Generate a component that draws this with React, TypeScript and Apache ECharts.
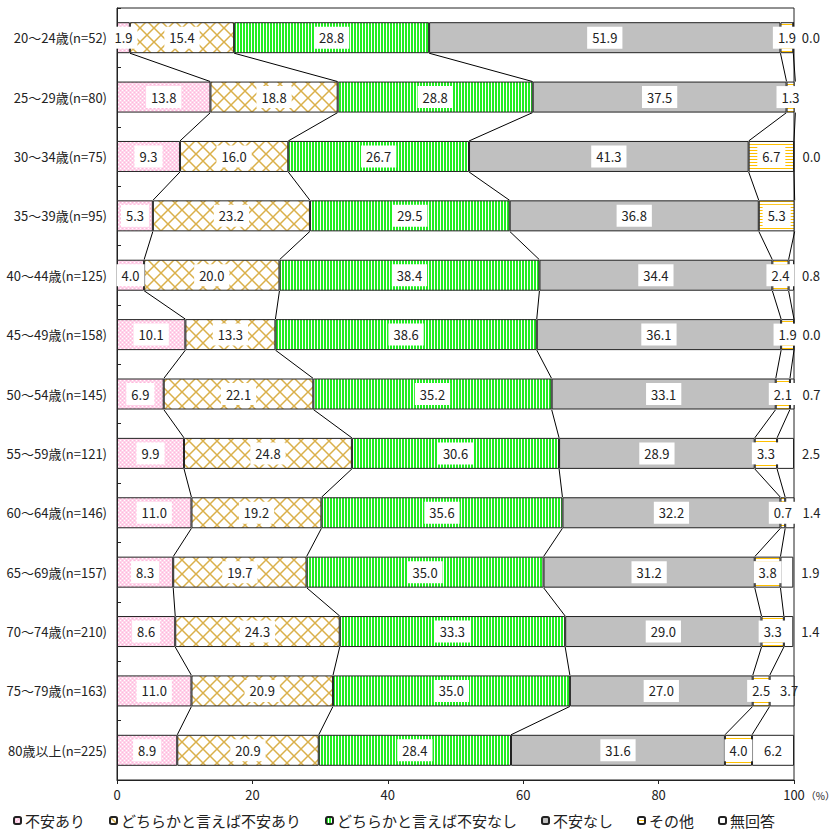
import React, { useEffect, useRef } from "react";
import * as echarts from "echarts";

const categories = [
  "20～24歳(n=52)",
  "25～29歳(n=80)",
  "30～34歳(n=75)",
  "35～39歳(n=95)",
  "40～44歳(n=125)",
  "45～49歳(n=158)",
  "50～54歳(n=145)",
  "55～59歳(n=121)",
  "60～64歳(n=146)",
  "65～69歳(n=157)",
  "70～74歳(n=210)",
  "75～79歳(n=163)",
  "80歳以上(n=225)",
];

const seriesNames = [
  "不安あり",
  "どちらかと言えば不安あり",
  "どちらかと言えば不安なし",
  "不安なし",
  "その他",
  "無回答",
];

const anxious = [1.9, 13.8, 9.3, 5.3, 4.0, 10.1, 6.9, 9.9, 11.0, 8.3, 8.6, 11.0, 8.9];
const ratherAnxious = [15.4, 18.8, 16.0, 23.2, 20.0, 13.3, 22.1, 24.8, 19.2, 19.7, 24.3, 20.9, 20.9];
const ratherNotAnxious = [28.8, 28.8, 26.7, 29.5, 38.4, 38.6, 35.2, 30.6, 35.6, 35.0, 33.3, 35.0, 28.4];
const notAnxious = [51.9, 37.5, 41.3, 36.8, 34.4, 36.1, 33.1, 28.9, 32.2, 31.2, 29.0, 27.0, 31.6];
const other = [1.9, 1.3, 6.7, 5.3, 2.4, 1.9, 2.1, 3.3, 0.7, 3.8, 3.3, 2.5, 4.0];
const noAnswer = [0.0, 0.0, 0.0, 0.0, 0.8, 0.0, 0.7, 2.5, 1.4, 1.9, 1.4, 3.7, 6.2];

const xTicks = [0, 20, 40, 60, 80, 100];

const FONT = "'Noto Sans CJK JP', 'Noto Sans', sans-serif";
const BAR = 31;

function makeCanvas(w: number, h: number, draw: (ctx: CanvasRenderingContext2D) => void) {
  const c = document.createElement("canvas");
  c.width = w;
  c.height = h;
  const ctx = c.getContext("2d")!;
  draw(ctx);
  return c;
}

function patterns() {
  const pink = makeCanvas(4, 4, (ctx) => {
    ctx.fillStyle = "#ffd4ea";
    ctx.fillRect(0, 0, 4, 4);
    ctx.fillStyle = "#ffffff";
    ctx.fillRect(0, 0, 1, 1);
    ctx.fillRect(2, 2, 1, 1);
    ctx.fillStyle = "#ffb8dc";
    ctx.fillRect(2, 0, 1, 1);
    ctx.fillRect(0, 2, 1, 1);
  });
  const lattice = makeCanvas(14, 14, (ctx) => {
    ctx.fillStyle = "#ffffff";
    ctx.fillRect(0, 0, 14, 14);
    ctx.strokeStyle = "#dab04a";
    ctx.lineWidth = 1.5;
    ctx.beginPath();
    ctx.moveTo(-2, -2);
    ctx.lineTo(16, 16);
    ctx.moveTo(16, -2);
    ctx.lineTo(-2, 16);
    ctx.stroke();
  });
  const green = makeCanvas(3, 1, (ctx) => {
    ctx.fillStyle = "#ffffff";
    ctx.fillRect(0, 0, 3, 1);
    ctx.fillStyle = "#22ee22";
    ctx.fillRect(0, 0, 2, 1);
  });
  const orange = makeCanvas(1, 3, (ctx) => {
    ctx.fillStyle = "#ffffff";
    ctx.fillRect(0, 0, 1, 3);
    ctx.fillStyle = "#ffc000";
    ctx.fillRect(0, 0, 1, 1);
  });
  return { pink, lattice, green, orange };
}

export default function App() {
  const ref = useRef<HTMLDivElement>(null);

  useEffect(() => {
    if (!ref.current) return;
    const chart = echarts.init(ref.current, undefined, { renderer: "svg" });
    const p = patterns();
    const fills: any[] = [
      { image: p.pink, repeat: "repeat" },
      { image: p.lattice, repeat: "repeat" },
      { image: p.green, repeat: "repeat" },
      "#c0c0c0",
      { image: p.orange, repeat: "repeat" },
      "#ffffff",
    ];
    const all = [anxious, ratherAnxious, ratherNotAnxious, notAnxious, other, noAnswer];

    const boxLabel = {
      show: true,
      position: "inside",
      formatter: (pp: any) => Number(pp.value).toFixed(1),
      backgroundColor: "#ffffff",
      padding: [5, 5, 4, 5],
      color: "#222",
      fontSize: 13,
      fontFamily: FONT,
    };

    const barSeries: any[] = all.map((arr, si) => {
      const isLast = si === 5;
      return {
        name: seriesNames[si],
        type: "bar",
        stack: "total",
        barWidth: BAR,
        itemStyle: { color: fills[si], borderColor: "#222", borderWidth: 1 },
        label: isLast
          ? {
              show: true,
              formatter: (pp: any) => Number(pp.value).toFixed(1),
              color: "#222",
              fontSize: 13,
              fontFamily: FONT,
            }
          : boxLabel,
        data: isLast
          ? arr.map((v) =>
              v >= 5
                ? { value: v, label: { position: "inside" } }
                : v >= 3
                ? { value: v, label: { position: "inside", offset: [7, 0] } }
                : { value: v, label: { position: "right", distance: 8 } }
            )
          : arr,
      };
    });

    // connecting lines between bars
    const lineData: number[][] = [];
    for (let i = 0; i < categories.length - 1; i++) {
      let cumA = 0;
      let cumB = 0;
      for (let k = 0; k < 5; k++) {
        cumA += all[k][i];
        cumB += all[k][i + 1];
        lineData.push([cumA, i, cumB, i + 1]);
      }
    }

    const connector = {
      type: "custom",
      name: "connector",
      silent: true,
      z: 5,
      encode: { x: [0, 2], y: [1, 3] },
      renderItem: (params: any, api: any) => {
        const a = api.coord([api.value(0), api.value(1)]);
        const b = api.coord([api.value(2), api.value(3)]);
        return {
          type: "line",
          shape: { x1: a[0], y1: a[1] + BAR / 2, x2: b[0], y2: b[1] - BAR / 2 },
          style: { stroke: "#000", lineWidth: 1 },
        };
      },
      data: lineData,
    };

    chart.setOption({
      animation: false,
      textStyle: { fontFamily: FONT },
      grid: {
        left: 117,
        right: 43,
        top: 8,
        bottom: 55,
        show: true,
        borderColor: "#222",
        borderWidth: 1,
      },
      legend: {
        data: seriesNames,
        left: 13,
        top: 813,
        padding: 0,
        itemWidth: 7,
        itemHeight: 7,
        itemGap: 24,
        textStyle: { fontSize: 15, color: "#222", fontFamily: FONT, padding: [0, 0, 0, -1] },
      },
      xAxis: {
        type: "value",
        min: xTicks[0],
        max: xTicks[xTicks.length - 1],
        interval: 20,
        splitLine: { show: false },
        axisLine: { show: true, lineStyle: { color: "#222" } },
        axisTick: { show: true, length: 4, lineStyle: { color: "#222" } },
        axisLabel: { fontSize: 13, color: "#222", margin: 8, fontFamily: FONT },
      },
      yAxis: {
        type: "category",
        inverse: true,
        data: categories,
        axisLine: { show: true, lineStyle: { color: "#222" } },
        axisTick: { show: true, inside: true, length: 4, lineStyle: { color: "#222" } },
        axisLabel: { fontSize: 13, color: "#222", margin: 10, fontFamily: FONT },
      },
      graphic: [
        {
          type: "text",
          right: 2,
          top: 790,
          style: { text: "（%）", fontSize: 10, fill: "#222", fontFamily: FONT },
        },
      ],
      series: [...barSeries, connector],
    });
    return () => chart.dispose();
  }, []);

  return (
    <div
      ref={ref}
      style={{ position: "absolute", left: 0, top: 0, width: 837, height: 835 }}
    />
  );
}
